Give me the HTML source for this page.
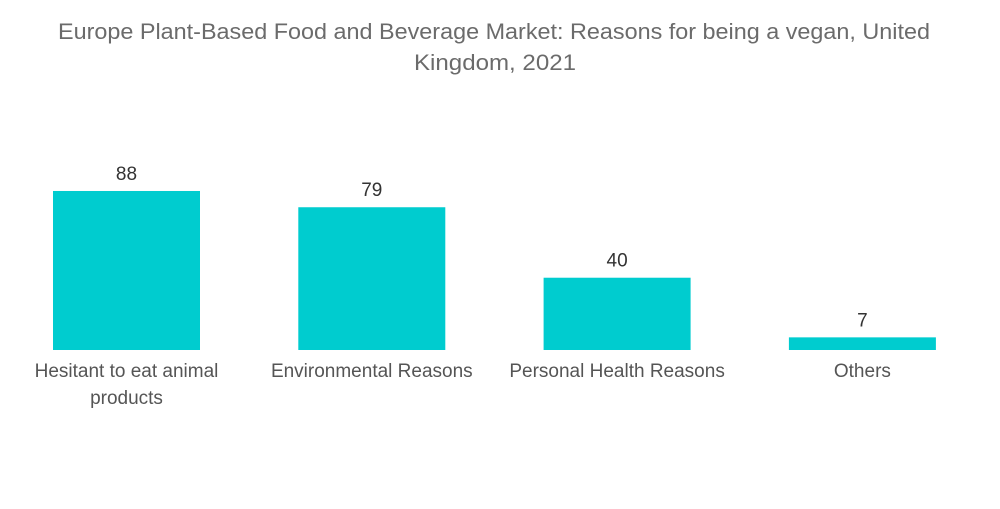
<!DOCTYPE html>
<html><head><meta charset="utf-8"><style>
body{margin:0;background:#fff;font-family:"Liberation Sans",sans-serif}
</style></head><body>
<svg id="chart" width="1000" height="504" xmlns="http://www.w3.org/2000/svg">
<text x="58" y="39" textLength="872" lengthAdjust="spacingAndGlyphs" font-size="22" fill="#6b6b6b" font-family="Liberation Sans, sans-serif">Europe Plant-Based Food and Beverage Market: Reasons for being a vegan, United</text>
<text x="414" y="70" textLength="162" lengthAdjust="spacingAndGlyphs" font-size="22" fill="#6b6b6b" font-family="Liberation Sans, sans-serif">Kingdom, 2021</text>
<g id="bars"></g>
</svg>
<script>
const categories=[["Hesitant to eat animal","products"],["Environmental Reasons"],["Personal Health Reasons"],["Others"]];
const values=[88,79,40,7];
const baseY=350, scale=1.807, x0=53, step=245.3, bw=147;
const y=v=>baseY-v*scale;
const g=document.getElementById('bars');
const ns="http://www.w3.org/2000/svg";
values.forEach((v,i)=>{
  const x=x0+i*step;
  const r=document.createElementNS(ns,'rect');
  
  
  r.setAttribute('x',x);r.setAttribute('y',y(v));r.setAttribute('width',bw);r.setAttribute('height',v*scale);r.setAttribute('fill','#00cccf');
  g.appendChild(r);
  const t=document.createElementNS(ns,'text');
  
  
  t.setAttribute('x',x+bw/2);t.setAttribute('y',y(v)-11);t.setAttribute('text-anchor','middle');t.setAttribute('font-size','19');t.setAttribute('fill','#333');
  t.textContent=v;g.appendChild(t);
  categories[i].forEach((line,j)=>{
    const c=document.createElementNS(ns,'text');
    
    
    c.setAttribute('x',x+bw/2);c.setAttribute('y',377+j*27);c.setAttribute('text-anchor','middle');c.setAttribute('font-size','19');c.setAttribute('fill','#555');
    c.textContent=line;g.appendChild(c);
  });
});
</script>
</body></html>
